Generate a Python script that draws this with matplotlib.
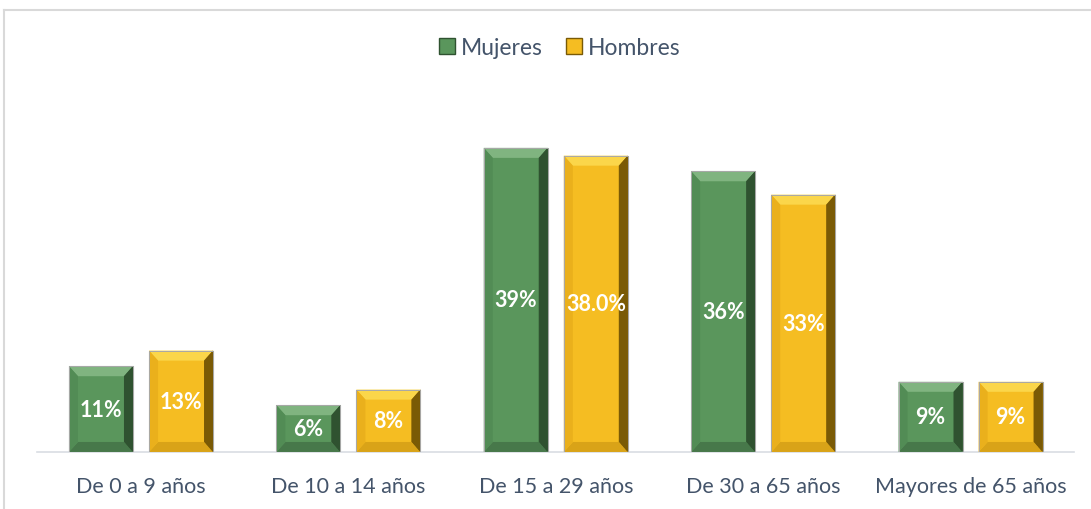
import matplotlib
matplotlib.use("Agg")
import matplotlib.pyplot as plt
from matplotlib.patches import Polygon, Patch, Rectangle
from matplotlib.lines import Line2D
import numpy as np

categories = ["De 0 a 9 años", "De 10 a 14 años", "De 15 a 29 años", "De 30 a 65 años", "Mayores de 65 años"]
mujeres = [11, 6, 39, 36, 9]
hombres = [13, 8, 38, 33, 9]
mujeres_labels = ["11%", "6%", "39%", "36%", "9%"]
hombres_labels = ["13%", "8%", "38.0%", "33%", "9%"]

GREEN = "#5a965c"
GREEN_TOP = "#80b480"
GREEN_DARK = "#2f5230"
GREEN_BOT = "#47784a"
GOLD = "#f5bd22"
GOLD_TOP = "#fbd64a"
GOLD_DARK = "#7a5a05"
GOLD_BOT = "#d9a318"
TEXT = "#44546a"

plt.rcParams['font.family'] = ['Lato', 'DejaVu Sans']

fig = plt.figure(figsize=(10.91, 5.10), dpi=100)
ax = fig.add_axes([0.0342, 0.1118, 0.9505, 0.692])
ax.set_xlim(-0.5, 4.5)
ax.set_ylim(0, 45.26)

x = np.arange(len(categories))
w = 0.3086
off = 0.193
b1 = ax.bar(x - off, mujeres, w, color=GREEN, edgecolor="#9aa89a", linewidth=0.8, zorder=2)
b2 = ax.bar(x + off, hombres, w, color=GOLD, edgecolor="#b0a070", linewidth=0.8, zorder=2)

fig.canvas.draw()
# pixel -> data scale
p0 = ax.transData.transform((0, 0))
p1 = ax.transData.transform((1, 1))
sx = 1.0 / (p1[0] - p0[0])
sy = 1.0 / (p1[1] - p0[1])

def bevel(rect, top, right, bot, left_c):
    x0, y0 = rect.get_x(), rect.get_y()
    x1, y1 = x0 + rect.get_width(), y0 + rect.get_height()
    bx = 9 * sx
    by = 10 * sy
    polys = [
        ([(x0, y1), (x1, y1), (x1 - bx, y1 - by), (x0 + bx, y1 - by)], top),
        ([(x1, y1), (x1, y0), (x1 - bx, y0 + by), (x1 - bx, y1 - by)], right),
        ([(x0, y0), (x1, y0), (x1 - bx, y0 + by), (x0 + bx, y0 + by)], bot),
        ([(x0, y0), (x0, y1), (x0 + bx, y1 - by), (x0 + bx, y0 + by)], left_c),
    ]
    for pts, c in polys:
        ax.add_patch(Polygon(pts, closed=True, facecolor=c, edgecolor="none", zorder=3))
    for i in range(4):
        frac = i / 4
        xs = x1 - bx * (1 - frac)
        ax.add_patch(Polygon([(xs, y1 - by * (1 - frac)), (xs, y0 + by * (1 - frac)),
                              (x1, y0), (x1, y1)], closed=True,
                             facecolor=right, alpha=0.35, edgecolor="none", zorder=3))
    ax.add_patch(Rectangle((x0, y0), x1 - x0, y1 - y0, facecolor="none",
                           edgecolor="#a8a8a8", linewidth=0.7, zorder=4))

for r in b1:
    bevel(r, GREEN_TOP, GREEN_DARK, GREEN_BOT, "#528c55")
for r in b2:
    bevel(r, GOLD_TOP, GOLD_DARK, GOLD_BOT, "#eab01c")

for r, lab in zip(b1, mujeres_labels):
    ax.text(r.get_x() + r.get_width() / 2, r.get_height() / 2, lab, ha="center", va="center",
            color="white", fontsize=15.5, fontweight="bold", zorder=5)
for r, lab in zip(b2, hombres_labels):
    ax.text(r.get_x() + r.get_width() / 2, r.get_height() / 2, lab, ha="center", va="center",
            color="white", fontsize=15.5, fontweight="bold", zorder=5)

ax.set_xticks(x)
ax.set_xticklabels(categories, fontsize=15.5, color=TEXT)
ax.tick_params(axis="x", length=0, pad=17)
ax.set_yticks([])
for s in ["top", "right", "left"]:
    ax.spines[s].set_visible(False)
ax.spines["bottom"].set_color("#d9dde3")
ax.spines["bottom"].set_linewidth(1.2)

handles = [Patch(facecolor=GREEN, edgecolor=GREEN_DARK, label="Mujeres"),
           Patch(facecolor=GOLD, edgecolor=GOLD_DARK, label="Hombres")]
leg = fig.legend(handles=handles, loc="center", bbox_to_anchor=(0.513, 0.904), ncol=2,
                 frameon=False, fontsize=16.5, handlelength=0.7, handleheight=0.7,
                 handletextpad=0.25, columnspacing=1.0)
for t in leg.get_texts():
    t.set_color(TEXT)

# chart border (top and left visible, rest cropped)
fig.add_artist(Line2D([4 / 1091, 1.0], [1 - 11 / 510, 1 - 11 / 510], transform=fig.transFigure,
                      color="#d9d9d9", linewidth=1.5))
fig.add_artist(Line2D([4 / 1091, 4 / 1091], [0, 1 - 11 / 510], transform=fig.transFigure,
                      color="#d9d9d9", linewidth=1.5))

fig.savefig("out.png", dpi=100)
